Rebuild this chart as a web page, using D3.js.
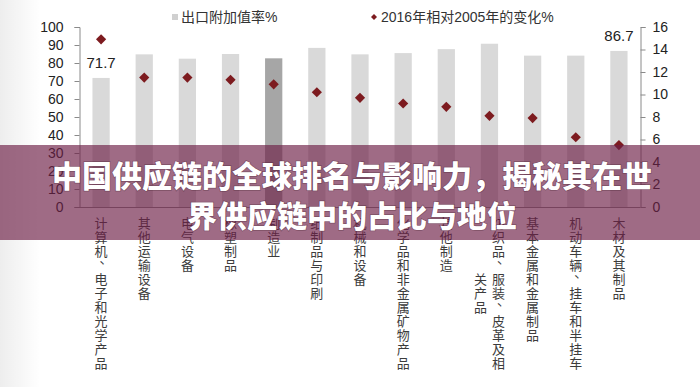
<!DOCTYPE html>
<html><head><meta charset="utf-8">
<script src="https://cdn.jsdelivr.net/npm/d3@7"></script>
<style>
html,body{margin:0;padding:0;background:#fff;}
svg{display:block;font-family:"Liberation Sans","Noto Sans CJK SC",sans-serif;}
</style></head>
<body><svg id="c" width="700" height="387"></svg>
<script>
const categories = ["计算机、电子和光学产品","其他运输设备","电气设备","橡塑制品","制造业","纸制品与印刷","机械和设备","化学品和非金属矿物产品","其他制造","纺织品、服装、皮革及相关产品","基本金属和金属制品","机动车辆、挂车和半挂车","木材及其制品"];
const exportValueAdded = [71.7,84.8,82.4,85.0,82.6,88.4,84.8,85.5,87.7,90.7,84.1,84.1,86.7];
const change2016vs2005 = [14.9,11.5,11.5,11.3,10.9,10.2,9.7,9.2,8.9,8.1,7.9,6.2,5.5];
const highlighted = ["制造业"];
const labelled = ["计算机、电子和光学产品","木材及其制品"];
const leftTicks = [0,10,20,30,40,50,60,70,80,90,100];
const rightTicks = [0,2,4,6,8,10,12,14,16];
const seriesNames = ["出口附加值率%","2016年相对2005年的变化%"];
const titleLines = ["中国供应链的全球排名与影响力，揭秘其在世","界供应链中的占比与地位"];

const svg = d3.select("#c");
const L = 79.5, R = 640.5, T = 27, B = 207;
const x = d3.scaleBand().domain(categories).range([L, R]).paddingInner(0.6).paddingOuter(0.3);
const yL = d3.scaleLinear().domain([0,100]).range([B, T]);
const yR = d3.scaleLinear().domain([0,16]).range([B, T]);

// subtle left edge shading
const defs = svg.append("defs");
const lg = defs.append("linearGradient").attr("id","edge").attr("x1",0).attr("x2",1);
lg.append("stop").attr("offset",0).attr("stop-color","#000").attr("stop-opacity",0.07);
lg.append("stop").attr("offset",1).attr("stop-color","#000").attr("stop-opacity",0);
svg.append("rect").attr("x",0).attr("y",0).attr("width",40).attr("height",387).attr("fill","url(#edge)");

// bars
svg.append("g").selectAll("rect").data(categories).join("rect")
  .attr("x", d => x(d)).attr("width", x.bandwidth())
  .attr("y", (d,i) => yL(exportValueAdded[i]))
  .attr("height", (d,i) => B - yL(exportValueAdded[i]))
  .attr("fill", d => highlighted.includes(d) ? "#a6a6a6" : "#d9d9d9");

// bar labels
svg.append("g").selectAll("text").data(categories.filter(d => labelled.includes(d))).join("text")
  .attr("x", d => x(d) + x.bandwidth()/2)
  .attr("y", d => yL(exportValueAdded[categories.indexOf(d)]) - 10)
  .attr("text-anchor","middle").attr("font-size",15).attr("fill","#222")
  .text(d => exportValueAdded[categories.indexOf(d)]);

// axes
const axL = d3.axisLeft(yL).tickValues(leftTicks).tickSize(5).tickPadding(11);
const axR = d3.axisRight(yR).tickValues(rightTicks).tickSize(5).tickPadding(7);
const gL = svg.append("g").attr("transform",`translate(${L},0)`).call(axL);
const gR = svg.append("g").attr("transform",`translate(${R},0)`).call(axR);
[gL,gR].forEach(g => {
  g.select(".domain").attr("stroke","#8a8a8a");
  g.selectAll(".tick line").attr("stroke","#8a8a8a");
  g.selectAll(".tick text").attr("font-size",14).attr("fill","#222").attr("font-family","Liberation Sans, sans-serif");
});
svg.append("line").attr("x1",L).attr("x2",R).attr("y1",B+0.5).attr("y2",B+0.5).attr("stroke","#8a8a8a");

// diamonds
const diamond = d3.symbol().type(d3.symbolSquare).size(52);
svg.append("g").selectAll("path").data(categories).join("path")
  .attr("d", diamond)
  .attr("transform", (d,i) => `translate(${x(d)+x.bandwidth()/2},${yR(change2016vs2005[i])}) rotate(45)`)
  .attr("fill","#7d1b1f");

// category labels (vertical, max 11 chars per column)
const gx = svg.append("g").attr("font-family","Noto Sans CJK SC, sans-serif").attr("font-size",13).attr("fill","#3c3c3c");
categories.forEach(cat => {
  const chars = Array.from(cat);
  const cols = [];
  for (let i=0;i<chars.length;i+=11) cols.push(chars.slice(i,i+11));
  const cx = x(cat) + x.bandwidth()/2;
  const maxLen = cols[0].length;
  cols.forEach((col,ci) => {
    const colX = cx + ((cols.length-1)/2 - ci) * 18;
    const off = (maxLen - col.length)/2 * 14;
    col.forEach((ch,k) => {
      const punct = (ch === "、" || ch === "，");
      gx.append("text")
        .attr("x", colX + (punct ? 5 : 0))
        .attr("y", 228 + off + k*14 + (punct ? -7 : 0))
        .attr("text-anchor","middle").text(ch);
    });
  });
});

// legend
const lgd = svg.append("g").attr("font-family","Liberation Sans, Noto Sans CJK SC, sans-serif").attr("font-size",14).attr("fill","#333");
lgd.append("rect").attr("x",172).attr("y",14).attr("width",6).attr("height",6).attr("fill","#d0d0d0");
lgd.append("text").attr("x",181).attr("y",22).text(seriesNames[0]);
lgd.append("path").attr("d", d3.symbol().type(d3.symbolSquare).size(18)).attr("transform","translate(374,17) rotate(45)").attr("fill","#7d1b1f");
lgd.append("text").attr("x",381).attr("y",22).text(seriesNames[1]);

// overlay banner
svg.append("rect").attr("x",0).attr("y",145).attr("width",700).attr("height",95).attr("fill","rgb(110,30,70)").attr("fill-opacity",0.66);
const tt = svg.append("g").attr("font-family","Noto Sans CJK SC, sans-serif").attr("font-weight",900).attr("font-size",30).attr("fill","#fff").attr("text-anchor","middle");
tt.selectAll("text").data(titleLines).join("text")
  .attr("x",352).attr("y",(d,i) => 187 + i*40)
  .style("paint-order","stroke").attr("stroke","rgba(60,20,40,0.35)").attr("stroke-width",1.5)
  .text(d => d);
</script></body></html>
